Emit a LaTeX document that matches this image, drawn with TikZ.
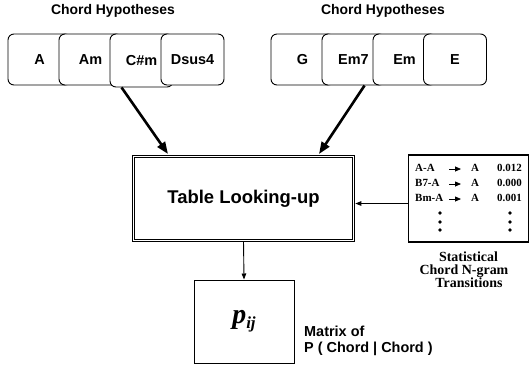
\documentclass[tikz,border=0pt]{standalone}
\usepackage{fontspec}
\setmainfont{Liberation Sans}
\newfontfamily\tnr{Liberation Serif}
\usetikzlibrary{arrows.meta,calc}
\begin{document}
\begin{tikzpicture}[x=1bp,y=-1bp,
  chord/.style={draw,fill=white,rounded corners=6bp,line width=0.9bp,minimum width=63bp,minimum height=51bp,inner sep=0pt,font=\fontsize{14.5}{16}\selectfont\bfseries,text height=10.5bp,text depth=0pt},
  title/.style={font=\fontsize{14}{16}\selectfont\bfseries,anchor=base,inner sep=0pt},
  bigarrow/.style={line width=2.6bp,-{Triangle[length=12bp,width=9bp]}},
  thinarrow/.style={line width=0.9bp,-{Triangle[length=6bp,width=4.5bp]}},
  rowtxt/.style={font=\fontsize{11}{12}\selectfont\tnr\bfseries,inner sep=0pt},
  captxt/.style={font=\fontsize{14}{14}\selectfont\tnr\bfseries,inner sep=0pt,anchor=base},
  mattxt/.style={font=\fontsize{14.5}{15}\selectfont\bfseries,inner sep=0pt,anchor=base west},
  dotmark/.style={fill=black}
]
\useasboundingbox (0,0) rectangle (530,370);

% titles
\node[title] (t1) at (113,14) {Chord Hypotheses};
\node[title] (t2) at (383,14) {Chord Hypotheses};

% left chord boxes
\node[chord] (l1) at (39.5,59.5) {A};
\node[chord] (l2) at (90.5,59.5) {Am};
\node[chord,minimum height=53bp] (l3) at (141.5,60.5) {C\#m};
\node[chord] (l4) at (192.5,59.5) {Dsus4};

% right chord boxes
\node[chord] (r1) at (302.5,59.5) {G};
\node[chord] (r2) at (353.5,59.5) {Em7};
\node[chord] (r3) at (404.5,59.5) {Em};
\node[chord] (r4) at (455,59.5) {E};

% table box
\node[draw,double,double distance=1.6bp,line width=1bp,minimum width=220bp,minimum height=84bp,
      font=\fontsize{18.5}{20}\selectfont\bfseries] (tl) at (243.5,198.5) {Table Looking-up};

% matrix box
\node[draw,line width=1bp,minimum width=100bp,minimum height=83bp] (mb) at (244,321.5)
  {\tnr\bfseries\itshape\fontsize{28}{28}\selectfont p\raisebox{-5bp}{\fontsize{17}{17}\selectfont ij}};
\node[mattxt] (m1) at (304,336) {Matrix of};
\node[mattxt] (m2) at (304,352) {P ( Chord | Chord )};

% statistics box
\node[draw,line width=1.2bp,minimum width=120bp,minimum height=87bp] (sb) at (468.5,198.5) {};
\foreach \y/\a/\v/\k in {171/A-A/0.012/1, 186/B7-A/0.000/2, 201/Bm-A/0.001/3}{
  \node[rowtxt,anchor=base west] (ra\k) at (415,\y) {\a};
  \node[rowtxt,anchor=base west] (rb\k) at (471,\y) {A};
  \node[rowtxt,anchor=base east] (rc\k) at (522,\y) {\v};
  \draw[line width=0.8bp,-{Triangle[length=6bp,width=5bp]}] (449,\y-2) -- (461,\y-2);
}
\foreach \yy in {213,222,230}{
  \fill[dotmark] (440,\yy) circle (1.9bp);
  \fill[dotmark] (510,\yy) circle (1.9bp);
}
\node[captxt] (s1) at (468.5,261) {Statistical};
\node[captxt] (s2) at (464,274) {Chord N-gram};
\node[captxt] (s3) at (469,287) {Transitions};

% connectors
\draw[bigarrow] ($(l3.south west)+(12,0)$) -- ($(tl.north west)+(35,-2)$);
\draw[bigarrow] ($(r2.south west)+(43,0)$) -- ($(tl.north west)+(186,-2)$);
\draw[thinarrow,shorten >=1.3bp] ($(sb.west)+(0,5)$) -- ($(tl.east)+(0,5)$);
\draw[thinarrow] (tl.south) -- (mb.north);
\end{tikzpicture}
\end{document}
